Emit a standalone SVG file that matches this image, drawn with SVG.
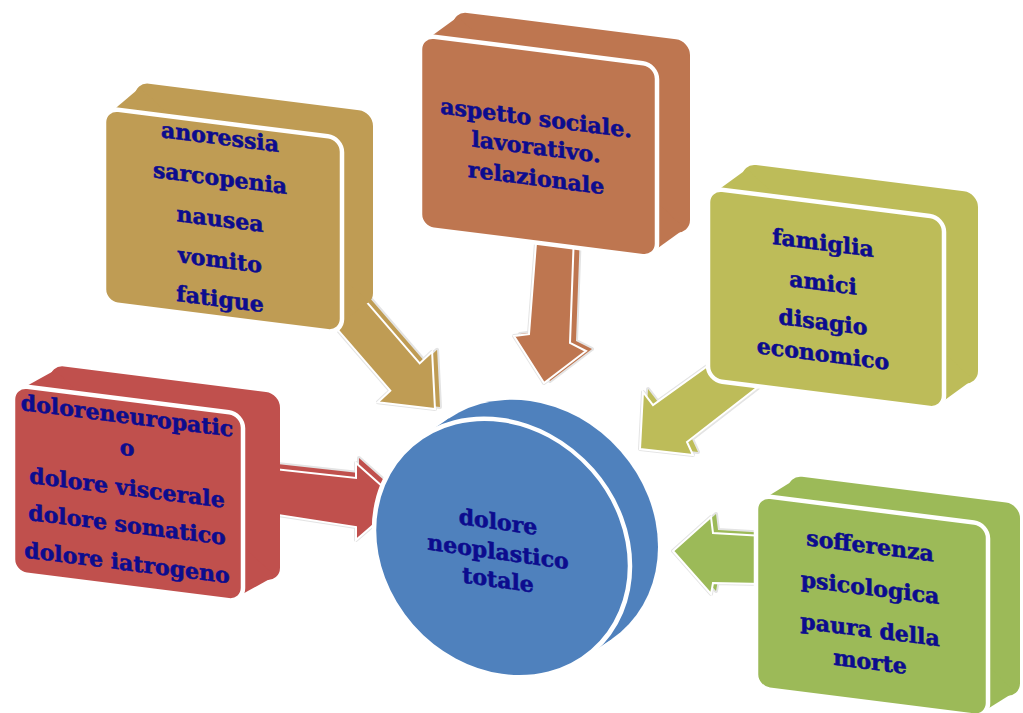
<svg xmlns="http://www.w3.org/2000/svg" xmlns:xlink="http://www.w3.org/1999/xlink" width="1023" height="713" viewBox="0 0 1023 713">
  <style>
    .lbl { font-family: "DejaVu Serif", "Liberation Serif", serif; font-weight: bold; font-size: 22px; fill: #0c0c8e; stroke: #0c0c8e; stroke-width: 0.55; text-anchor: middle; }
    .face { stroke: #ffffff; stroke-width: 4.5; }
    .halo { fill: none; stroke: #e4e4e4; stroke-width: 4; stroke-linejoin: round; }
    .arw { stroke: #ffffff; stroke-width: 2; }
  </style>
  <defs>
    <!-- block arrow outlines, global coordinates -->
    <polygon id="arrowGold" points="349.7,282.4 419.7,363.4 432.1,351.8 435,409 377.9,402.2 390.3,390.6 320.3,309.6"/>
    <polygon id="arrowOrange" points="537,230 574,234 570,343 586,351 544,383 514,336 529,334"/>
    <polygon id="arrowOlive" points="734,347 653,405 643,392 640,449 693,455 687,442 780,370"/>
    <polygon id="arrowGreen" points="765,536 713,533 711,517 673,551 711,594 713,583 765,584"/>
    <polygon id="arrowRed" points="265,468 356,478 356,463 400,502 356,540 356,527 265,513"/>
  </defs>

  <rect width="1023" height="713" fill="#ffffff"/>

  <g id="connectors">
    <g fill="#BF9C54">
      <use xlink:href="#arrowGold" transform="translate(5,-2)" class="halo"/>
      <use xlink:href="#arrowGold" class="halo"/>
      <use xlink:href="#arrowGold" transform="translate(5,-2)"/>
      <use xlink:href="#arrowGold" class="arw"/>
    </g>
    <g fill="#BE7650">
      <use xlink:href="#arrowOrange" transform="translate(6,-2)" class="halo"/>
      <use xlink:href="#arrowOrange" class="halo"/>
      <use xlink:href="#arrowOrange" transform="translate(6,-2)"/>
      <use xlink:href="#arrowOrange" class="arw"/>
    </g>
    <g fill="#BDBC59">
      <use xlink:href="#arrowOlive" transform="translate(5,-3)" class="halo"/>
      <use xlink:href="#arrowOlive" class="halo"/>
      <use xlink:href="#arrowOlive" transform="translate(5,-3)"/>
      <use xlink:href="#arrowOlive" class="arw"/>
    </g>
    <g fill="#9CBA58">
      <use xlink:href="#arrowGreen" transform="translate(5,-3)" class="halo"/>
      <use xlink:href="#arrowGreen" class="halo"/>
      <use xlink:href="#arrowGreen" transform="translate(5,-3)"/>
      <use xlink:href="#arrowGreen" class="arw"/>
    </g>
    <g fill="#C0504D">
      <use xlink:href="#arrowRed" transform="translate(3,-5)" class="halo"/>
      <use xlink:href="#arrowRed" class="halo"/>
      <use xlink:href="#arrowRed" transform="translate(3,-5)"/>
      <use xlink:href="#arrowRed" class="arw"/>
    </g>
  </g>

  <!-- physical symptoms -->
  <g id="node-physical" transform="translate(104,108) skewY(7.2)" fill="#BF9C54">
    <rect x="31" y="-30" width="238" height="195" rx="14"/>
    <polygon points="5,5 36,-25 264,160 233,190"/>
    <rect width="238" height="195" rx="14" class="face"/>
    <text class="lbl" x="116" y="22">anoressia</text>
    <text class="lbl" x="116" y="63">sarcopenia</text>
    <text class="lbl" x="116" y="104">nausea</text>
    <text class="lbl" x="116" y="145">vomito</text>
    <text class="lbl" x="116" y="184">fatigue</text>
  </g>

  <!-- social aspect -->
  <g id="node-social" transform="translate(420,35) skewY(7.2)" fill="#BE7650">
    <rect x="33" y="-28" width="237" height="193" rx="14"/>
    <polygon points="5,5 38,-23 265,160 232,188"/>
    <rect width="237" height="193" rx="14" class="face"/>
    <text class="lbl" x="116" y="76">aspetto sociale.</text>
    <text class="lbl" x="116" y="105">lavorativo.</text>
    <text class="lbl" x="116" y="136">relazionale</text>
  </g>

  <!-- family -->
  <g id="node-family" transform="translate(708,188) skewY(7.2)" fill="#BDBC59">
    <rect x="34" y="-29" width="236" height="192" rx="14"/>
    <polygon points="5,5 39,-24 265,158 231,187"/>
    <rect width="236" height="192" rx="14" class="face"/>
    <text class="lbl" x="115" y="48">famiglia</text>
    <text class="lbl" x="115" y="88">amici</text>
    <text class="lbl" x="115" y="127">disagio</text>
    <text class="lbl" x="115" y="159">economico</text>
  </g>

  <!-- psychological suffering -->
  <g id="node-psychological" transform="translate(756,495) skewY(7.2)" fill="#9CBA58">
    <rect x="32" y="-24" width="232" height="193" rx="14"/>
    <polygon points="5,5 37,-19 259,164 227,188"/>
    <rect width="232" height="193" rx="14" class="face"/>
    <text class="lbl" x="114" y="44">sofferenza</text>
    <text class="lbl" x="114" y="86">psicologica</text>
    <text class="lbl" x="114" y="128">paura della</text>
    <text class="lbl" x="114" y="160">morte</text>
  </g>

  <!-- pain types -->
  <g id="node-pain" transform="translate(13,385) skewY(7.2)" fill="#C0504D">
    <rect x="37" y="-25" width="230" height="188" rx="14"/>
    <polygon points="5,5 42,-20 262,158 225,183"/>
    <rect width="230" height="188" rx="14" class="face"/>
    <text class="lbl" x="114" y="24">doloreneuropatic</text>
    <text class="lbl" x="114" y="56">o</text>
    <text class="lbl" x="114" y="96">dolore viscerale</text>
    <text class="lbl" x="114" y="133">dolore somatico</text>
    <text class="lbl" x="114" y="171">dolore iatrogeno</text>
  </g>

  <!-- central disc -->
  <g id="node-center" transform="translate(502,548) skewY(8)" fill="#4F81BD">
    <circle cx="28" cy="-23" r="128"/>
    <polygon points="81.3,99 -81.3,-99 -53.3,-122 109.3,76"/>
    <circle r="128" class="face"/>
    <text class="lbl" x="-4" y="-18">dolore</text>
    <text class="lbl" x="-4" y="12">neoplastico</text>
    <text class="lbl" x="-4" y="40">totale</text>
  </g>
</svg>
